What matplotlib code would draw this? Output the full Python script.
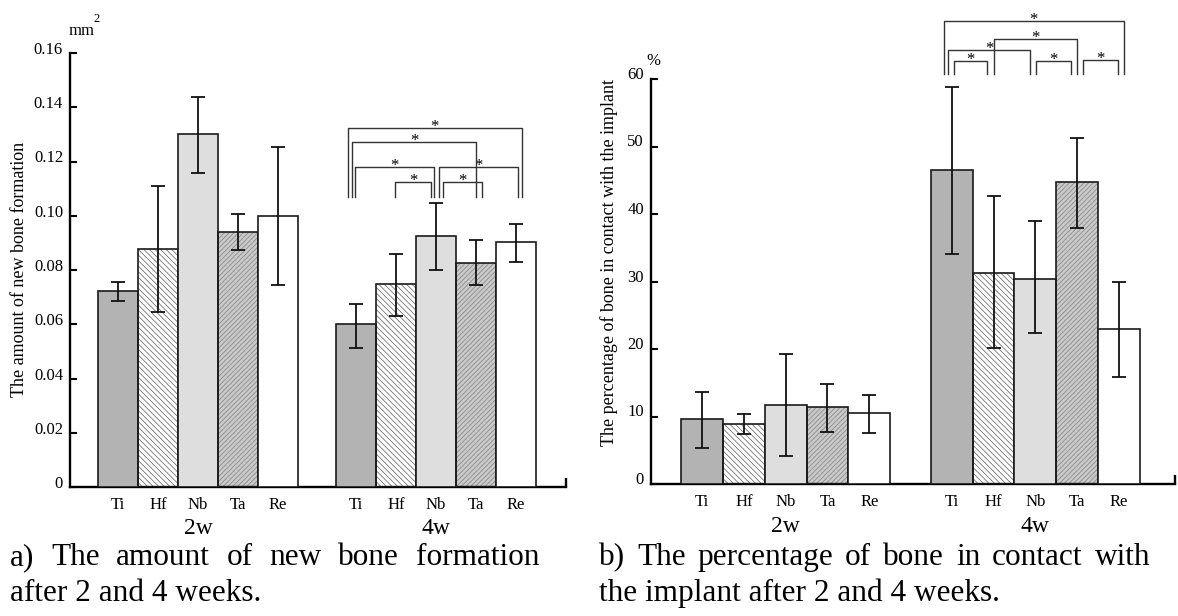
import matplotlib
matplotlib.use('Agg')
import matplotlib.pyplot as plt
import matplotlib.transforms as mtrans
import numpy as np

plt.rcParams['font.family'] = ['Liberation Serif', 'DejaVu Serif']
plt.rcParams['hatch.linewidth'] = 0.55

# ---------------- data ----------------
metals = ['Ti', 'Hf', 'Nb', 'Ta', 'Re']
weeks = ['2w', '4w']

bone_2w = [0.0722, 0.0879, 0.130, 0.094, 0.100]
bone_2w_lo = [0.0685, 0.0644, 0.1159, 0.0874, 0.0745]
bone_2w_hi = [0.0756, 0.1111, 0.1436, 0.1006, 0.1255]
bone_4w = [0.060, 0.075, 0.0924, 0.0825, 0.0904]
bone_4w_lo = [0.0513, 0.0631, 0.080, 0.0744, 0.0828]
bone_4w_hi = [0.0675, 0.0859, 0.1048, 0.0909, 0.0969]

contact_2w = [9.6, 8.9, 11.7, 11.4, 10.5]
contact_2w_lo = [5.3, 7.4, 4.1, 7.7, 7.5]
contact_2w_hi = [13.7, 10.3, 19.3, 14.8, 13.2]
contact_4w = [46.5, 31.2, 30.4, 44.8, 23.0]
contact_4w_lo = [34.1, 20.1, 22.3, 38.0, 15.8]
contact_4w_hi = [58.8, 42.6, 39.0, 51.3, 29.9]

bone_ticks = [0, 0.02, 0.04, 0.06, 0.08, 0.10, 0.12, 0.14, 0.16]
bone_ticklabels = ['0', '0.02', '0.04', '0.06', '0.08', '0.10', '0.12', '0.14', '0.16']
contact_ticks = [0, 10, 20, 30, 40, 50, 60]
contact_ticklabels = ['0', '10', '20', '30', '40', '50', '60']

# significance brackets among 4w bars: (bar i, bar j, bracket height)
bone_sig = [(0, 4, 0.1323), (0, 3, 0.1273), (0, 2, 0.118),
            (1, 2, 0.1125), (2, 4, 0.118), (2, 3, 0.1125)]
bone_sig_base = 0.1069
contact_sig = [(0, 4, 68.55), (1, 3, 65.95), (0, 2, 64.25),
               (0, 1, 62.65), (2, 3, 62.65), (3, 4, 62.75)]
contact_sig_base = 60.75

# ---------------- style ----------------
W, H = 1178, 616
fig = plt.figure(figsize=(W / 100, H / 100), dpi=100)

def fr(x0, y_top, x1, y_bot):
    return [x0 / W, 1 - y_bot / H, (x1 - x0) / W, (y_bot - y_top) / H]

def px(x, y):
    return (x / W, 1 - y / H)

fills = ['#b3b3b3', 'white', '#dedede', '#cacaca', 'white']
hatches = [None, '\\' * 6, None, '/' * 7, None]
hatch_cols = [None, '#6a6a6a', None, '#858585', None]

bone_leg_off = [(-0.21, 0.15), (-0.09, 0.0), (-0.02, -0.04),
                (-0.02, -0.12), (0.07, 0.04), (0.18, 0.15)]
contact_leg_off = [(-0.19, 0.11), (0.0, 0.0), (-0.10, -0.12),
                   (0.05, -0.15), (0.02, -0.15), (0.15, -0.03)]


def draw_panel(ax, groups, starts, xmax, ymax, ticks, ticklabels,
               sig, sig_base, leg_off, tick_dy):
    centers_all = []
    for (vals, lo, hi), st in zip(groups, starts):
        xs = st + np.arange(len(metals))
        centers_all.append(xs)
        vals = np.array(vals); lo = np.array(lo); hi = np.array(hi)
        for k, x in enumerate(xs):
            if hatches[k]:
                ax.bar(x, vals[k], width=1.0, color=fills[k], hatch=hatches[k],
                       edgecolor=hatch_cols[k], linewidth=0, zorder=2)
                ax.bar(x, vals[k], width=1.0, fill=False, edgecolor='#1a1a1a',
                       linewidth=1.2, zorder=3)
            else:
                ax.bar(x, vals[k], width=1.0, color=fills[k],
                       edgecolor='#1a1a1a', linewidth=1.2, zorder=3)
        ax.errorbar(xs, vals, yerr=[vals - lo, hi - vals], fmt='none',
                    ecolor='#111111', elinewidth=1.3, capsize=5, capthick=1.3,
                    zorder=4)
        for k, x in enumerate(xs):
            ax.annotate(metals[k], xy=(x, 0), xycoords=('data', 'axes fraction'),
                        xytext=(0, -18), textcoords='offset pixels',
                        ha='center', va='center', fontsize=12)
    for wk, xs in zip(weeks, centers_all):
        ax.annotate(wk, xy=(xs[2], 0), xycoords=('data', 'axes fraction'),
                    xytext=(0, -42), textcoords='offset pixels',
                    ha='center', va='center', fontsize=17)

    # brackets on 4w group
    xs = centers_all[1]
    for (i, j, h), (oi, oj) in zip(sig, leg_off):
        xa, xb = xs[i] + oi, xs[j] + oj
        ax.plot([xa, xa, xb, xb], [sig_base, h, h, sig_base], color='#333333',
                lw=1.0, clip_on=False, zorder=5)
        ax.annotate('*', xy=((xa + xb) / 2, h), xytext=(0, -3),
                    textcoords='offset pixels', ha='center', va='baseline',
                    fontsize=12, annotation_clip=False)

    ax.set_xlim(0, xmax)
    ax.set_ylim(0, ymax)
    ax.set_xticks([])
    ax.set_yticks(ticks)
    ax.set_yticklabels(ticklabels)
    ax.tick_params(axis='y', direction='in', length=5, width=1.5,
                   labelsize=12, pad=5)
    off = mtrans.ScaledTranslation(0, tick_dy / 100, fig.dpi_scale_trans)
    for lab in ax.get_yticklabels():
        lab.set_transform(lab.get_transform() + off)
    for s in ['top', 'right']:
        ax.spines[s].set_visible(False)
    ax.spines['left'].set_linewidth(1.7)
    ax.spines['bottom'].set_linewidth(1.7)
    ax.set_facecolor('none')
    # small up-tick at the right end of the x axis
    bb = ax.get_position()
    hpx = bb.height * H
    ax.plot([1, 1], [0, 9 / hpx], transform=ax.transAxes, color='black',
            lw=1.7, clip_on=False, solid_capstyle='butt')


ax1 = fig.add_axes(fr(70, 53, 566, 487))
draw_panel(ax1,
           [(bone_2w, bone_2w_lo, bone_2w_hi), (bone_4w, bone_4w_lo, bone_4w_hi)],
           [1.2, 7.15], 12.4, 0.16, bone_ticks, bone_ticklabels,
           bone_sig, bone_sig_base, bone_leg_off, 5)

ax2 = fig.add_axes(fr(651, 79, 1175, 484))
draw_panel(ax2,
           [(contact_2w, contact_2w_lo, contact_2w_hi),
            (contact_4w, contact_4w_lo, contact_4w_hi)],
           [1.22, 7.19], 12.53, 60, contact_ticks, contact_ticklabels,
           contact_sig, contact_sig_base, contact_leg_off, 6)

# axis titles / units
fig.text(*px(20, 269), 'The amount of new bone formation', rotation=90,
         ha='center', va='center', fontsize=13)
fig.text(*px(609, 262), 'The percentage of bone in contact with the implant',
         rotation=90, ha='center', va='center', fontsize=13)
fig.text(*px(82, 31), 'mm', ha='center', va='center', fontsize=12)
fig.text(*px(97, 19), '2', ha='center', va='center', fontsize=9)
fig.text(*px(653, 61), '%', ha='center', va='center', fontsize=12)

# captions
cap_size = 22.5
renderer = fig.canvas.get_renderer()

def justified(line, x0, x1, ybase):
    words = line.split()
    texts, widths = [], []
    for w in words:
        t = fig.text(0, 0, w, fontsize=cap_size, ha='left', va='baseline')
        widths.append(t.get_window_extent(renderer).width)
        texts.append(t)
    gap = (x1 - x0 - sum(widths)) / (len(words) - 1)
    x = x0
    for t, wd in zip(texts, widths):
        t.set_position(px(x, ybase))
        x += wd + gap

justified('a) The amount of new bone formation', 10, 539, 565)
fig.text(*px(10, 601), 'after 2 and 4 weeks.', fontsize=cap_size,
         ha='left', va='baseline')
justified('b) The percentage of bone in contact with', 599, 1150, 565)
fig.text(*px(599, 601), 'the implant after 2 and 4 weeks.', fontsize=cap_size,
         ha='left', va='baseline')

fig.savefig('out.png', dpi=100)
